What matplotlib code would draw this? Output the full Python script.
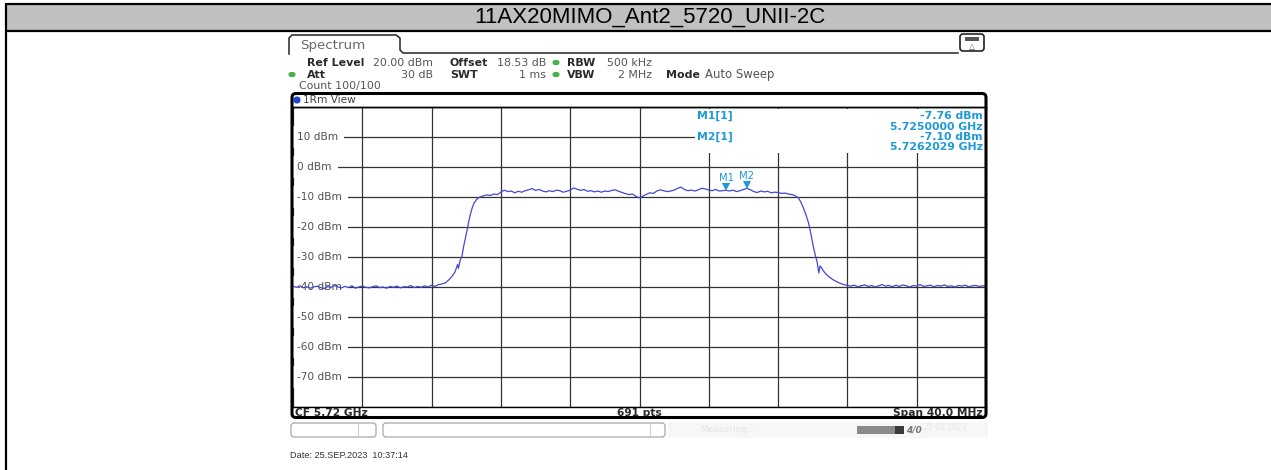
import matplotlib
matplotlib.use("Agg")
import matplotlib.pyplot as plt
from matplotlib.patches import Rectangle, FancyBboxPatch
from matplotlib.transforms import offset_copy, blended_transform_factory
import numpy as np

# ---------------- data ----------------
title = "11AX20MIMO_Ant2_5720_UNII-2C"
center_freq_ghz = 5.72
span_mhz = 40.0
sweep_points = 691

# trace: frequency offset from start (MHz) and level (dBm)
floor_left_mhz = [0.0, 0.2, 0.4, 0.6, 0.8, 1.0, 1.2, 1.4, 1.6, 1.8, 2.0, 2.2, 2.4, 2.6,
                  2.8, 3.0, 3.2, 3.4, 3.6, 3.8, 4.0, 4.2, 4.4, 4.6, 4.8, 5.0, 5.2, 5.4,
                  5.6, 5.8, 6.0, 6.2, 6.4, 6.6, 6.8, 7.0, 7.2, 7.4, 7.6, 7.8, 8.0, 8.2]
floor_left_dbm = [-39.8, -40.1, -39.6, -40.3, -39.9, -40.4, -40.0, -39.7, -40.2, -40.5,
                  -39.9, -40.1, -39.5, -40.0, -40.3, -39.8, -40.2, -39.6, -40.4, -40.0,
                  -39.7, -40.1, -40.3, -39.9, -39.6, -40.2, -40.0, -40.4, -39.8, -40.1,
                  -39.7, -40.3, -39.9, -40.0, -39.5, -40.2, -39.8, -40.1, -39.6, -40.0,
                  -39.4, -39.8]
rise_mhz = [8.4, 8.6, 8.8, 9.0, 9.2, 9.35, 9.5, 9.55, 9.65, 9.75, 9.85, 9.95, 10.05,
            10.15, 10.25, 10.35, 10.45, 10.6, 10.75, 10.9]
rise_dbm = [-39.2, -39.0, -38.6, -37.6, -36.3, -35.0, -32.5, -33.8, -31.0, -29.8, -26.5,
            -23.8, -21.0, -18.0, -15.5, -13.5, -12.0, -10.8, -10.1, -9.8]
top_mhz = [11.0, 11.2, 11.4, 11.6, 11.8, 12.0, 12.2, 12.4, 12.6, 12.8, 13.0, 13.2, 13.4,
           13.6, 13.8, 14.0, 14.2, 14.4, 14.6, 14.8, 15.0, 15.2, 15.4, 15.6, 15.8, 16.0,
           16.2, 16.4, 16.6, 16.8, 17.0, 17.2, 17.4, 17.6, 17.8, 18.0, 18.2, 18.4, 18.6,
           18.8, 19.0, 19.2, 19.4, 19.6, 19.8, 20.0, 20.2, 20.4, 20.6, 20.8, 21.0, 21.2,
           21.4, 21.6, 21.8, 22.0, 22.2, 22.4, 22.6, 22.8, 23.0, 23.2, 23.4, 23.6, 23.8,
           24.0, 24.2, 24.4, 24.6, 24.8, 25.0, 25.2, 25.4, 25.6, 25.8, 26.0, 26.2, 26.4,
           26.6, 26.8, 27.0, 27.2, 27.4, 27.6, 27.8, 28.0, 28.2, 28.4, 28.6, 28.8]
top_dbm = [-9.6, -9.3, -9.5, -9.0, -9.2, -8.4, -7.7, -8.2, -8.0, -8.6, -8.1, -8.4, -7.9,
           -7.6, -7.2, -7.8, -7.5, -8.0, -8.3, -7.9, -8.2, -7.7, -7.9, -8.4, -8.1, -7.7,
           -7.0, -7.4, -7.8, -7.5, -8.1, -7.9, -8.3, -8.0, -8.4, -8.0, -8.2, -7.8, -7.6,
           -8.1, -8.5, -8.9, -9.2, -9.0, -9.8, -10.3, -9.7, -9.1, -8.6, -8.8, -8.0, -7.6,
           -7.9, -8.2, -8.0, -7.7, -7.1, -6.7, -7.5, -7.9, -7.7, -8.0, -7.6, -7.1, -7.3,
           -7.7, -7.9, -7.5, -8.0, -7.9, -7.76, -8.0, -7.7, -8.2, -7.9, -7.5, -7.1, -7.6,
           -8.2, -8.5, -8.0, -8.3, -8.1, -8.6, -8.4, -8.5, -8.8, -8.7, -9.0, -9.2]
fall_mhz = [29.0, 29.15, 29.3, 29.45, 29.6, 29.75, 29.85, 29.95, 30.05, 30.15, 30.25,
            30.35, 30.42, 30.5, 30.6, 30.75, 30.9, 31.1, 31.3, 31.55, 31.8, 32.0]
fall_dbm = [-9.6, -10.2, -11.5, -13.5, -15.8, -18.5, -21.0, -24.0, -27.0, -29.5, -31.5,
            -35.3, -33.0, -33.5, -34.5, -35.6, -36.4, -37.3, -38.0, -38.7, -39.2, -39.5]
floor_right_mhz = [32.2, 32.4, 32.6, 32.8, 33.0, 33.2, 33.4, 33.6, 33.8, 34.0, 34.2, 34.4,
                   34.6, 34.8, 35.0, 35.2, 35.4, 35.6, 35.8, 36.0, 36.2, 36.4, 36.6, 36.8,
                   37.0, 37.2, 37.4, 37.6, 37.8, 38.0, 38.2, 38.4, 38.6, 38.8, 39.0, 39.2,
                   39.4, 39.6, 39.8, 40.0]
floor_right_dbm = [-39.7, -39.4, -39.9, -39.6, -39.3, -39.8, -39.5, -40.0, -39.6, -39.2,
                   -39.7, -39.5, -39.9, -39.4, -39.8, -39.3, -39.6, -40.0, -39.5, -39.7,
                   -39.2, -39.8, -39.6, -39.4, -39.9, -39.5, -39.7, -39.3, -39.8, -39.6,
                   -40.0, -39.5, -39.7, -39.4, -39.9, -39.6, -39.5, -39.8, -39.6, -39.7]

marker_names = ["M1", "M2"]
marker_freq_ghz = [5.7250000, 5.7262029]
marker_level_dbm = [-7.76, -7.10]

y_tick_dbm = [10, 0, -10, -20, -30, -40, -50, -60, -70]
ref_level_dbm = 20
y_bottom_dbm = -80

# ---------------- figure ----------------
W, H = 1271, 470
fig = plt.figure(figsize=(W / 100, H / 100), dpi=100)
fig.patch.set_facecolor("white")

ov = fig.add_axes([0, 0, 1, 1])
ov.set_xlim(0, W)
ov.set_ylim(H, 0)
ov.axis("off")

# title band
ov.add_patch(Rectangle((6, 4), W - 6, 27, facecolor="#c0c0c0", edgecolor="none", zorder=1))
ov.plot([6, W], [4, 4], color="black", lw=1.6, zorder=2, solid_capstyle="butt")
ov.plot([6, W], [31, 31], color="black", lw=1.6, zorder=2, solid_capstyle="butt")
ov.plot([6, 6], [3.2, H], color="black", lw=1.6, zorder=2, solid_capstyle="butt")
ov.text(650, 17.5, title, ha="center", va="center", fontsize=16,
        family=["Liberation Sans Narrow", "Liberation Sans"], color="black", zorder=3)

FONT = "DejaVu Sans"
GRAY = "#555555"
DARK = "#2a2a2a"
BLUE = "#1f9ad6"
GREEN = "#45b34a"

# Spectrum tab
ov.plot([289, 289, 292, 396, 400, 400, 403, 958],
        [54, 38, 35, 35, 38, 50, 53, 53], color="#222222", lw=1.1, zorder=2)
ov.text(300, 45.5, "Spectrum", fontsize=9.6, family=FONT, color="#6a6a6a",
        va="center", ha="left", zorder=3)
# icon at top right
ov.add_patch(FancyBboxPatch((960, 34), 24, 17, boxstyle="round,pad=0,rounding_size=3",
                            facecolor="white", edgecolor="#222222", lw=1.2, zorder=2))
ov.add_patch(Rectangle((965, 37), 14, 4, facecolor="#555555", edgecolor="none", zorder=3))
ov.text(972, 46, "\u25B3", fontsize=5.5, family=FONT, color="#555555",
        ha="center", va="center", zorder=3)

# info rows
def t(x, y, s, bold=False, ha="left", color=DARK, size=7.9, axes=None):
    (axes or ov).text(x, y, s, fontsize=size, family=FONT,
                      fontweight="bold" if bold else "normal",
                      color=color, ha=ha, va="center", zorder=3)

def dot(x, y, color=GREEN, w=7, h=5):
    ov.add_patch(FancyBboxPatch((x - w / 2, y - h / 2), w, h,
                                boxstyle="round,pad=0,rounding_size=2.4",
                                facecolor=color, edgecolor="none", zorder=3))

t(307, 62.5, "Ref Level", bold=True)
t(433, 62.5, "20.00 dBm", ha="right", color=GRAY)
t(450, 62.5, "Offset", bold=True)
t(546, 62.5, "18.53 dB", ha="right", color=GRAY)
dot(556, 62.5)
t(567, 62.5, "RBW", bold=True)
t(652, 62.5, "500 kHz", ha="right", color=GRAY)

dot(292, 74.5)
t(307, 74.5, "Att", bold=True)
t(433, 74.5, "30 dB", ha="right", color=GRAY)
t(450, 74.5, "SWT", bold=True)
t(546, 74.5, "1 ms", ha="right", color=GRAY)
dot(556, 74.5)
t(567, 74.5, "VBW", bold=True)
t(652, 74.5, "2 MHz", ha="right", color=GRAY)
t(666, 74.5, "Mode", bold=True)
t(705, 74.5, "Auto Sweep", color=GRAY, size=8.4)

t(299, 86.5, "Count 100/100", color=GRAY)

# trace window header strip
ov.text(303, 100, "1Rm View", fontsize=7.6, family=FONT, color="#444444",
        va="center", ha="left", zorder=3)
ov.add_patch(FancyBboxPatch((297 - 3.5, 100 - 3.5), 7, 7,
                            boxstyle="round,pad=0,rounding_size=3.5",
                            facecolor="#2244cc", edgecolor="none", zorder=3))

# footer texts
t(295, 412.5, "CF 5.72 GHz", bold=True, size=7.7)
t(639.5, 412.5, f"{sweep_points} pts", bold=True, ha="center", size=7.7)
t(983, 412.5, f"Span {span_mhz:.1f} MHz", bold=True, ha="right", size=7.7)

# bottom status bar
ov.add_patch(FancyBboxPatch((291, 423), 85, 14, boxstyle="round,pad=0,rounding_size=3",
                            facecolor="white", edgecolor="#a8a8a8", lw=0.9, zorder=2))
ov.plot([358, 358], [424, 436], color="#d0d0d0", lw=0.8, zorder=3)
ov.add_patch(FancyBboxPatch((383, 423), 282, 14, boxstyle="round,pad=0,rounding_size=3",
                            facecolor="white", edgecolor="#a8a8a8", lw=0.9, zorder=2))
ov.plot([650, 650], [424, 436], color="#d0d0d0", lw=0.8, zorder=3)
ov.add_patch(Rectangle((668, 422), 320, 16, facecolor="#f7f7f7", edgecolor="none", zorder=1))
ov.text(700, 430, "Measuring...", fontsize=6.5, family=FONT, color="#e4e4e4",
        va="center", zorder=3)
ov.add_patch(Rectangle((857, 426), 38, 8, facecolor="#8a8a8a", edgecolor="none", zorder=3))
ov.add_patch(Rectangle((895, 426), 9, 8, facecolor="#3c3c3c", edgecolor="none", zorder=3))
ov.text(914, 430, "4/0", fontsize=6.5, family=FONT, color="#777777", style="italic",
        fontweight="bold", va="center", ha="center", zorder=3)
ov.text(945, 427, "25.09.2023", fontsize=5.5, family=FONT, color="#e6e6e6",
        va="center", ha="center", zorder=3)

ov.text(290, 456, "Date: 25.SEP.2023  10:37:14", fontsize=6.6, family="Liberation Sans",
        color="#333333", va="center", ha="left", zorder=3)

# ---------------- spectrum plot ----------------
start_ghz = center_freq_ghz - span_mhz / 2000.0
stop_ghz = center_freq_ghz + span_mhz / 2000.0
offs = floor_left_mhz + rise_mhz + top_mhz + fall_mhz + floor_right_mhz
levels = floor_left_dbm + rise_dbm + top_dbm + fall_dbm + floor_right_dbm
freq_ghz = start_ghz + np.array(offs) / 1000.0

ax = fig.add_axes([293 / W, 1 - 407 / H, (986 - 293) / W, (407 - 107) / H])
ax.set_facecolor("white")
ax.set_xlim(start_ghz, stop_ghz)
ax.set_ylim(y_bottom_dbm, ref_level_dbm)
ax.set_xticks(np.linspace(start_ghz, stop_ghz, 11))
ax.set_yticks(np.arange(y_bottom_dbm, ref_level_dbm + 1, 10))
ax.grid(True, color="#333333", lw=0.9)
ax.set_axisbelow(True)
ax.tick_params(length=0, labelbottom=False, labelleft=False)
for s in ax.spines.values():
    s.set_color("black")
ax.spines["top"].set_linewidth(1.0)
ax.spines["bottom"].set_linewidth(1.0)
ax.spines["left"].set_visible(False)
ax.spines["right"].set_visible(False)

ytr = blended_transform_factory(ov.transData, ax.transData)
for v in y_tick_dbm:
    ax.text(297, v, f"{v} dBm", transform=ytr, fontsize=7.6, family=FONT, color="#505050",
            ha="left", va="center", zorder=4,
            bbox=dict(boxstyle="square,pad=0.6", facecolor="white", edgecolor="none"))

# white block for marker info
ax.add_patch(Rectangle((695, 108.5), 290, 44, transform=ov.transData, facecolor="white",
                       edgecolor="none", zorder=3.5))

ax.plot(freq_ghz, levels, color="#4646d2", lw=0.9, zorder=5)

tri_tr = offset_copy(ax.transData, fig=fig, x=0, y=2.4, units="points")
lab_tr = offset_copy(ax.transData, fig=fig, x=0, y=9.0, units="points")
for name, f, lv in zip(marker_names, marker_freq_ghz, marker_level_dbm):
    ax.plot([f], [lv], marker="v", markersize=5.2, color=BLUE, transform=tri_tr, zorder=6,
            markeredgewidth=0)
    ax.text(f, lv, name, transform=lab_tr, fontsize=7.2, family=FONT, color=BLUE,
            ha="center", va="center", zorder=6)

# overlay on top of the plot
top = fig.add_axes([0, 0, 1, 1], label="overlay")
top.set_xlim(0, W)
top.set_ylim(H, 0)
top.axis("off")
top.patch.set_alpha(0)

# marker info block
mi = [("M1[1]", f"{marker_level_dbm[0]:.2f} dBm", f"{marker_freq_ghz[0]:.7f} GHz", 116),
      ("M2[1]", f"{marker_level_dbm[1]:.2f} dBm", f"{marker_freq_ghz[1]:.7f} GHz", 137)]
for name, lvl, fr, yy in mi:
    t(697, yy, name, bold=True, color=BLUE, size=7.8, axes=top)
    t(983, yy, lvl, bold=True, color=BLUE, size=7.8, ha="right", axes=top)
    t(983, yy + 10.5, fr, bold=True, color=BLUE, size=7.8, ha="right", axes=top)

top.add_patch(FancyBboxPatch((292, 93.5), 694, 324, boxstyle="round,pad=0,rounding_size=4",
                             facecolor="none", edgecolor="black", lw=2.2, zorder=5))
top.plot([292, 986], [107, 107], color="black", lw=1.0)

fig.savefig("out.png", dpi=100, facecolor="white")
